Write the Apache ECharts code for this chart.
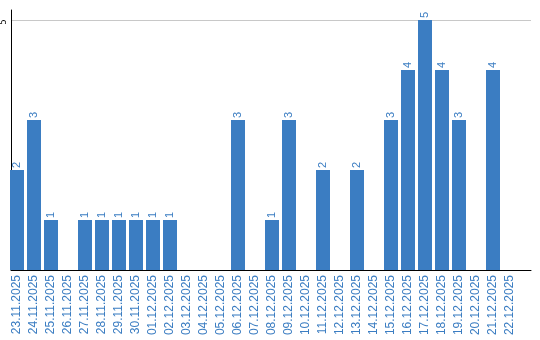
<!DOCTYPE html>
<html><head><meta charset="utf-8">
<script src="https://cdn.jsdelivr.net/npm/echarts@6/dist/echarts.min.js"></script>
<style>html,body{margin:0;padding:0;background:#fff}#c{width:540px;height:340px}</style>
</head><body><div id="c"></div>
<script>
const categories = ['23.11.2025','24.11.2025','25.11.2025','26.11.2025','27.11.2025','28.11.2025','29.11.2025','30.11.2025','01.12.2025','02.12.2025','03.12.2025','04.12.2025','05.12.2025','06.12.2025','07.12.2025','08.12.2025','09.12.2025','10.12.2025','11.12.2025','12.12.2025','13.12.2025','14.12.2025','15.12.2025','16.12.2025','17.12.2025','18.12.2025','19.12.2025','20.12.2025','21.12.2025','22.12.2025'];
const values = [2,3,1,0,1,1,1,1,1,1,0,0,0,3,0,1,3,0,2,0,2,0,3,4,5,4,3,0,4,0];
const yTicks = [5];

const blue = '#3b7dc2';
const chart = echarts.init(document.getElementById('c'), null, {renderer:'canvas'});
chart.setOption({
  animation: false,
  grid: [
    {left: 10, width: 521, top: 10, height: 260},
    {left: 8.5, width: 510, top: 10, height: 260}
  ],
  xAxis: [
    {gridIndex: 0, type: 'value', min: 0, max: 1,
     axisLine: {show: true, lineStyle: {color: '#000', width: 1}},
     axisTick: {show: false}, axisLabel: {show: false}, splitLine: {show: false}},
    {gridIndex: 1, type: 'category', data: categories,
     axisLine: {show: false}, axisTick: {show: false}, splitLine: {show: false},
     axisLabel: {interval: 0, rotate: 90, margin: 5, color: blue,
       fontFamily: 'Liberation Sans', fontSize: 12}}
  ],
  yAxis: [
    {gridIndex: 0, type: 'value', min: 0, max: 5.2, interval: 5,
     axisLine: {show: true, lineStyle: {color: '#000', width: 1}},
     axisTick: {show: false},
     axisLabel: {rotate: 90, margin: 3, color: '#000', fontFamily: 'DejaVu Sans', fontSize: 8,
       padding: [0, 4, 0, 0],
       formatter: v => yTicks.includes(v) ? String(v) : ''},
     splitLine: {show: true, showMinLine: false, showMaxLine: false,
       lineStyle: {color: '#c8c8c8', width: 1}}},
    {gridIndex: 1, type: 'value', min: 0, max: 5.2, show: false}
  ],
  series: [{
    type: 'bar', xAxisIndex: 1, yAxisIndex: 1,
    data: values.map(v => v === 0 ? null : v),
    barWidth: 14,
    itemStyle: {color: blue},
    label: {show: true, position: 'top', rotate: 90, align: 'left', verticalAlign: 'middle',
      distance: 2, color: blue, fontFamily: 'Liberation Sans', fontSize: 11}
  }]
});
</script></body></html>
